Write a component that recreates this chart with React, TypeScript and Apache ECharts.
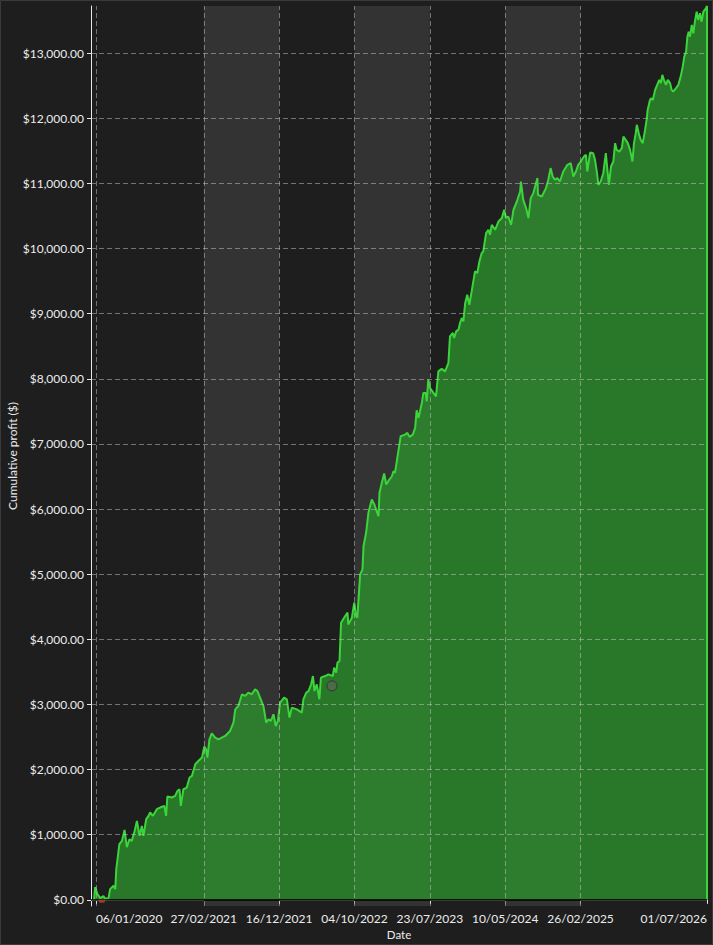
import React, { useEffect, useRef } from "react";
import * as echarts from "echarts";

// ---- data ----
const START_DATE = "2020-01-06";
const AXIS_MIN_DATE = "2019-12-18";
const AXIS_MAX_DATE = "2026-07-01";

// days since START_DATE
const dayOffset = [
  -7, -3, 6, 17, 29, 36, 49, 55, 68, 75, 79, 91, 101, 111, 120, 130, 139, 150, 159, 169,
  178, 184, 195, 204, 210, 221, 236, 249, 265, 272, 277, 294, 307, 316, 324, 329, 339, 352, 363, 372,
  385, 397, 411, 420, 427, 432, 440, 449, 462, 475, 501, 520, 533, 540, 552, 566, 578, 591, 604, 617,
  626, 636, 649, 660, 669, 678, 688, 697, 705, 714, 729, 740, 750, 759, 779, 798, 804, 815, 824, 834,
  841, 847, 856, 866, 872, 888, 901, 918, 923, 931, 936, 944, 950, 966, 975, 978, 992, 1001, 1008, 1013,
  1024, 1033, 1037, 1047, 1056, 1069, 1079, 1095, 1099, 1108, 1117, 1125, 1137, 1147, 1153, 1159, 1166, 1176, 1181, 1198,
  1207, 1215, 1228, 1237, 1243, 1250, 1256, 1263, 1269, 1278, 1282, 1288, 1295, 1308, 1318, 1327, 1340, 1353, 1366, 1372,
  1383, 1388, 1396, 1405, 1411, 1418, 1424, 1431, 1439, 1447, 1456, 1469, 1478, 1486, 1495, 1501, 1512, 1521, 1527, 1534,
  1547, 1560, 1573, 1582, 1589, 1598, 1609, 1618, 1631, 1644, 1647, 1656, 1667, 1676, 1685, 1695, 1711, 1713, 1728, 1744,
  1753, 1762, 1770, 1779, 1788, 1798, 1811, 1827, 1840, 1850, 1860, 1869, 1879, 1891, 1899, 1904, 1915, 1927, 1934, 1941,
  1947, 1956, 1966, 1976, 1982, 1988, 1996, 2005, 2012, 2018, 2028, 2038, 2044, 2053, 2061, 2070, 2079, 2085, 2092, 2096,
  2105, 2111, 2119, 2128, 2134, 2138, 2147, 2151, 2158, 2167, 2175, 2183, 2189, 2195, 2201, 2209, 2216, 2225, 2231, 2237,
  2248, 2257, 2266, 2274, 2280, 2287, 2292, 2297, 2302, 2309, 2315, 2321, 2328, 2334, 2341, 2347, 2354, 2364, 2368, 2368,
];

const profit = [
  0, 195, 87, 26, 57, 18, 26, 164, 215, 164, 471, 854, 905, 1074, 808, 931, 905, 1058, 1212, 982,
  1135, 982, 1238, 1289, 1341, 1289, 1391, 1417, 1442, 1289, 1586, 1571, 1595, 1672, 1698, 1442, 1698, 1724, 1878, 1902,
  2082, 2132, 2184, 2353, 2312, 2184, 2465, 2557, 2491, 2465, 2516, 2593, 2721, 2925, 2976, 3156, 3130, 3182, 3156, 3232,
  3206, 3105, 2976, 2721, 2772, 2746, 2849, 2669, 2746, 3028, 3105, 3079, 2798, 2951, 2925, 2875, 3079, 3182, 3206, 3309,
  3436, 3206, 3309, 3079, 3412, 3436, 3462, 3436, 3565, 3488, 3642, 3666, 4255, 4357, 4409, 4229, 4332, 4562, 4357, 4332,
  4996, 5073, 5430, 5636, 5943, 6147, 6070, 5891, 6250, 6403, 6546, 6377, 6454, 6504, 6581, 6557, 6735, 6991, 7118, 7144,
  7170, 7109, 7144, 7247, 7517, 7400, 7501, 7630, 7784, 7784, 7655, 7988, 7860, 7784, 7731, 8115, 8152, 8115, 8244, 8652,
  8704, 8627, 8729, 8755, 8858, 8934, 8882, 9165, 9292, 9138, 9342, 9649, 9625, 9802, 9931, 9956, 10238, 10289, 10212, 10365,
  10289, 10416, 10469, 10596, 10469, 10493, 10365, 10596, 10723, 10876, 11030, 10749, 10622, 10469, 10775, 10852, 11082, 10826, 10800, 10929,
  11056, 11236, 11107, 11056, 11082, 11030, 11183, 11286, 11312, 11107, 11183, 11286, 11337, 11413, 11440, 11183, 11475, 11465, 11363, 11183,
  10979, 11030, 11158, 11465, 11209, 10979, 11260, 11337, 11619, 11516, 11490, 11542, 11720, 11669, 11619, 11516, 11337, 11619, 11772, 11900,
  11746, 11669, 11619, 11823, 11976, 12130, 12283, 12309, 12283, 12437, 12514, 12590, 12540, 12667, 12590, 12514, 12590, 12540, 12437, 12411,
  12463, 12514, 12641, 12794, 12948, 13024, 13254, 13331, 13254, 13433, 13306, 13484, 13638, 13510, 13613, 13484, 13638, 13690, 13725, 0,
];

const tickDates = [
  "2020-01-06", "2021-02-27", "2021-12-16", "2022-10-04",
  "2023-07-23", "2024-05-10", "2025-02-26", "2026-07-01",
];
const gridLineDates = tickDates.slice(0, 7);
const shadedBands = [
  ["2021-02-27", "2021-12-16"],
  ["2022-10-04", "2023-07-23"],
  ["2024-05-10", "2025-02-26"],
];
const yTicks = [0, 1000, 2000, 3000, 4000, 5000, 6000, 7000, 8000, 9000, 10000, 11000, 12000, 13000];
const Y_MIN = -95;
const Y_MAX = 13725;

// [dayOffset, value]
const drawdownMarker = [[23, -22]];
const highlightPoint = [[915, 3285]];

// ---- helpers ----
const DAY = 86400000;
const toTs = (s: string) => {
  const [y, m, d] = s.split("-").map(Number);
  return Date.UTC(y, m - 1, d);
};
const startTs = toTs(START_DATE);
const dayToTs = (d: number) => startTs + d * DAY;
const pad = (n: number) => (n < 10 ? "0" + n : "" + n);
const fmtDate = (ts: number) => {
  const dt = new Date(ts);
  return `${pad(dt.getUTCDate())}/${pad(dt.getUTCMonth() + 1)}/${dt.getUTCFullYear()}`;
};
const fmtMoney = (v: number) => {
  const s = Math.round(v).toString().replace(/\B(?=(\d{3})+(?!\d))/g, ",");
  return "$" + s + ".00";
};

const FONT = "Lato";
const TEXT = "#ececec";

export default function App() {
  const ref = useRef<HTMLDivElement>(null);
  useEffect(() => {
    document.body.style.margin = "0";
    document.body.style.background = "#1e1e1e";
    const chart = echarts.init(ref.current!, null, { renderer: "svg" });
    const lineData = dayOffset.map((d, i) => [dayToTs(d), profit[i]]);
    const tickTs = tickDates.map(toTs);
    const dashed = {
      color: "rgba(200,200,200,0.5)",
      width: 1,
      type: [5, 3] as number[],
    };
    chart.setOption({
      animation: false,
      backgroundColor: "#1e1e1e",
      textStyle: { fontFamily: FONT },
      graphic: [
        {
          type: "rect",
          shape: { x: 0.5, y: 0.5, width: 712, height: 944 },
          style: { fill: "none", stroke: "#3a3a3a", lineWidth: 1 },
          silent: true,
        },
      ],
      grid: {
        left: 91,
        right: 6,
        top: 6,
        bottom: 39,
        containLabel: false,
        outerBoundsMode: "none",
      },
      xAxis: {
        type: "value",
        min: toTs(AXIS_MIN_DATE),
        max: toTs(AXIS_MAX_DATE),
        name: "Date",
        nameLocation: "middle",
        nameGap: 22,
        nameMoveOverlap: false,
        nameTextStyle: { color: TEXT, fontSize: 11.5, fontFamily: FONT },
        axisLine: { show: true, lineStyle: { color: "#e8e8e8", width: 1 } },
        axisTick: {
          show: true,
          length: 4,
          customValues: tickTs,
          lineStyle: { color: "#e8e8e8" },
        },
        axisLabel: {
          customValues: tickTs,
          formatter: (v: number) => fmtDate(v),
          color: TEXT,
          fontSize: 12,
          fontFamily: FONT,
          margin: 6,
          alignMinLabel: "left",
          alignMaxLabel: "right",
        },
        splitLine: { show: false },
      },
      yAxis: {
        type: "value",
        min: Y_MIN,
        max: Y_MAX,
        name: "Cumulative profit ($)",
        nameLocation: "middle",
        nameGap: 73,
        nameMoveOverlap: false,
        nameTextStyle: { color: TEXT, fontSize: 12, fontFamily: FONT },
        axisLine: { show: true, lineStyle: { color: "#e8e8e8", width: 1 } },
        axisTick: {
          show: true,
          length: 4,
          customValues: yTicks,
          lineStyle: { color: "#e8e8e8" },
        },
        axisLabel: {
          customValues: yTicks,
          formatter: (v: number) => fmtMoney(v),
          color: TEXT,
          fontSize: 12,
          fontFamily: FONT,
          margin: 7,
        },
        splitLine: { show: false },
      },
      series: [
        {
          type: "line",
          name: "bands",
          data: [],
          z: 1,
          silent: true,
          markArea: {
            silent: true,
            itemStyle: { color: "#333333" },
            data: shadedBands.map(([a, b]) => [{ xAxis: toTs(a) }, { xAxis: toTs(b) }]),
          },
        },
        {
          type: "line",
          name: "Cumulative profit",
          data: lineData,
          z: 2,
          showSymbol: false,
          symbol: "none",
          lineStyle: { color: "#3bd43b", width: 2 },
          areaStyle: { color: "rgba(46,150,46,0.75)", opacity: 1, origin: 0 },
          silent: true,
        },
        {
          type: "line",
          name: "grid",
          data: [],
          z: 3,
          silent: true,
          markLine: {
            silent: true,
            symbol: "none",
            label: { show: false },
            lineStyle: dashed,
            data: [
              ...gridLineDates.map((d) => ({ xAxis: toTs(d) })),
              ...yTicks.filter((v) => v !== 0).map((v) => ({ yAxis: v })),
            ],
          },
        },
        {
          type: "line",
          name: "zero",
          data: [],
          z: 4,
          silent: true,
          markLine: {
            silent: true,
            symbol: "none",
            label: { show: false },
            lineStyle: { color: "#000000", width: 1.5, type: "solid" },
            data: [{ yAxis: 0 }],
          },
        },
        {
          type: "scatter",
          name: "drawdown",
          z: 5,
          silent: true,
          symbol: "path://M0,0 L10,0 L8,3 L2,3 Z",
          symbolSize: [8, 3],
          itemStyle: { color: "#b8402a" },
          data: drawdownMarker.map(([d, v]) => [dayToTs(d), v]),
        },
        {
          type: "scatter",
          name: "highlight",
          z: 6,
          silent: true,
          symbol: "circle",
          symbolSize: 10,
          itemStyle: { color: "rgba(95,100,85,0.9)", borderColor: "#2b2b2b", borderWidth: 1 },
          data: highlightPoint.map(([d, v]) => [dayToTs(d), v]),
        },
      ],
    });
    return () => chart.dispose();
  }, []);
  return <div ref={ref} style={{ width: 713, height: 945 }} />;
}
